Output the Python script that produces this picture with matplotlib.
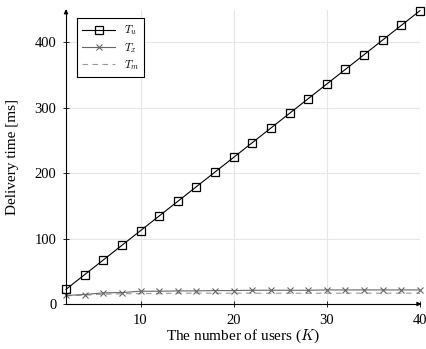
import numpy as np
import matplotlib
matplotlib.use("Agg")
import matplotlib.pyplot as plt

plt.rcParams['font.family'] = ['Liberation Serif', 'DejaVu Serif']
plt.rcParams['mathtext.fontset'] = 'cm'

users = [2, 4, 6, 8, 10, 12, 14, 16, 18, 20, 22, 24, 26, 28, 30, 32, 34, 36, 38, 40]
t_u = [22.4, 44.8, 67.2, 89.6, 112, 134.4, 156.8, 179.2, 201.6, 224, 246.4, 268.8,
       291.2, 313.6, 336, 358.4, 380.8, 403.2, 425.6, 448]
t_x = [13, 14.5, 17, 17.5, 19.5, 19.5, 20, 20, 20.5, 20.5, 21, 21, 21, 21, 21.5, 21.5,
       21.5, 21.5, 21.5, 21.5]
t_m = [12.5, 13.5, 15, 15.5, 16, 16, 16.5, 16.5, 16.5, 16.5, 16.5, 16.5, 16.5, 16.5,
       16.5, 16.5, 16.5, 16.5, 16.5, 16.5]

fig = plt.figure(figsize=(4.27, 3.49), dpi=100)
ax = fig.add_axes([66/427, 45/349, 354/427, 294/349])

ax.plot(users, t_u, color='black', lw=0.8, marker='s', ms=6, mfc='none', mew=0.9,
        label='$T_u$', zorder=3, clip_on=False)
ax.plot(users, t_x, color='#666666', lw=0.8, marker='x', ms=4, mew=0.8,
        label='$T_x$', zorder=2, clip_on=False)
ax.plot(users, t_m, color='#999999', lw=0.8, ls=(0, (5, 4)), label='$T_m$', zorder=1)

ax.set_xlim(2, 40)
ax.set_ylim(0, 449)
ax.set_xticks([10, 20, 30, 40])
ax.set_yticks([0, 100, 200, 300, 400])
ax.grid(True, color='#e6e6e6', lw=0.8)
ax.set_axisbelow(True)
for s in ['top', 'right']:
    ax.spines[s].set_visible(False)
for s in ['left', 'bottom']:
    ax.spines[s].set_linewidth(0.8)
ax.tick_params(direction='inout', length=4, width=0.6, labelsize=10.5, pad=5)

ax.annotate('', xy=(1.012, 0), xytext=(0.99, 0), xycoords='axes fraction',
            arrowprops=dict(arrowstyle='-|>', color='black', lw=0.8,
                            mutation_scale=6), annotation_clip=False)
ax.annotate('', xy=(0, 1.012), xytext=(0, 0.98), xycoords='axes fraction',
            arrowprops=dict(arrowstyle='-|>', color='black', lw=0.8,
                            mutation_scale=6), annotation_clip=False)

ax.set_xlabel('The number of users ($K$)', fontsize=11, labelpad=1)
ax.set_ylabel('Delivery time [ms]', fontsize=11, labelpad=11)

leg = ax.legend(loc='upper left', bbox_to_anchor=(0.015, 0.99), fontsize=8,
                frameon=True, fancybox=False, edgecolor='black', framealpha=1,
                handlelength=3, borderpad=0.45, labelspacing=0.3)
leg.get_frame().set_linewidth(0.8)

fig.savefig('out.png', dpi=100)
